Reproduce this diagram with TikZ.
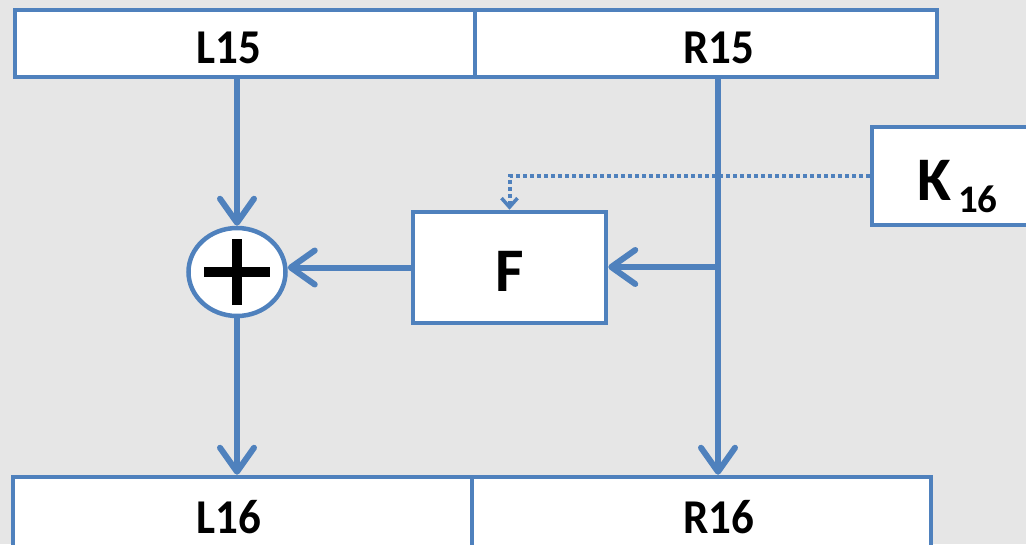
\documentclass[tikz,border=0pt]{standalone}
\usepackage{fontspec}
\setmainfont{Carlito}
\usetikzlibrary{arrows.meta,shapes.geometric}
\definecolor{linkblue}{HTML}{4F81BD}
\definecolor{canvas}{HTML}{E6E6E6}
\begin{document}
\begin{tikzpicture}[x=1pt,y=-1pt,
  box/.style={draw=linkblue, line width=4.5pt, fill=white, rectangle, inner sep=0pt},
  lbl/.style={font=\bfseries\fontsize{45}{45}\selectfont, inner sep=0pt, yscale=1.08},
  biglbl/.style={font=\bfseries\fontsize{62}{62}\selectfont, inner sep=0pt},
  sublbl/.style={font=\bfseries\fontsize{39}{39}\selectfont, inner sep=0pt},
  flow/.style={draw=linkblue, line width=6pt,
    -{Straight Barb[length=24pt,width=34pt,line width=6pt,round]}},
  keyflow/.style={draw=linkblue, line width=4pt, dash pattern=on 4pt off 3pt,
    -{Straight Barb[length=9pt,width=16pt,line width=3.5pt]}}
]
\useasboundingbox (0,0) rectangle (1026,544);
\fill[canvas] (0,0) rectangle (1026,544);
\clip (0,0) rectangle (1026,544);

% input halves
\node[box, minimum width=460pt, minimum height=67pt] (L15) at (245,43.5) {};
\node[box, minimum width=462pt, minimum height=67pt] (R15) at (706,43.5) {};
\node[lbl] (tL15) at (229,48) {L15};
\node[lbl] (tR15) at (719,48) {R15};

% output halves
\node[box, minimum width=459pt, minimum height=100pt] (L16) at (242.5,527) {};
\node[box, minimum width=459pt, minimum height=100pt] (R16) at (701.5,527) {};
\node[lbl] (tL16) at (229,517) {L16};
\node[lbl] (tR16) at (719,517) {R16};

% round function and subkey
\node[box, minimum width=193pt, minimum height=111pt] (F) at (509.5,267.5) {};
\node[biglbl] (tF) at (510,271) {F};
\node[box, minimum width=200pt, minimum height=98pt] (K) at (972,176) {};
\node[biglbl, anchor=base west] (tK) at (917,200) {K};
\node[sublbl, anchor=base west] (tK16) at (958,212) {16};

% XOR
\node[ellipse, draw=linkblue, line width=4.5pt, fill=white, inner sep=0pt,
      minimum width=97pt, minimum height=88pt] (xor) at (237,272) {};
\draw[black, line width=10pt] ([xshift=-33pt]xor.center) -- ([xshift=33pt]xor.center);
\draw[black, line width=10pt] ([yshift=-33pt]xor.center) -- ([yshift=33pt]xor.center);

% subkey into F
\draw[keyflow] (K.west) -| (F.north);

% data flow
\coordinate (tap) at (718,267);
\draw[flow] (L15.south -| xor) -- (xor.north);
\draw[flow] (xor.south) -- (xor.south |- L16.north);
\draw[flow] (R15.south -| tap) -- (R16.north -| tap);
\draw[flow] (tap) -- (F.east |- tap);
\draw[flow] (F.west) -- (F.west -| xor.east);
\end{tikzpicture}
\end{document}
